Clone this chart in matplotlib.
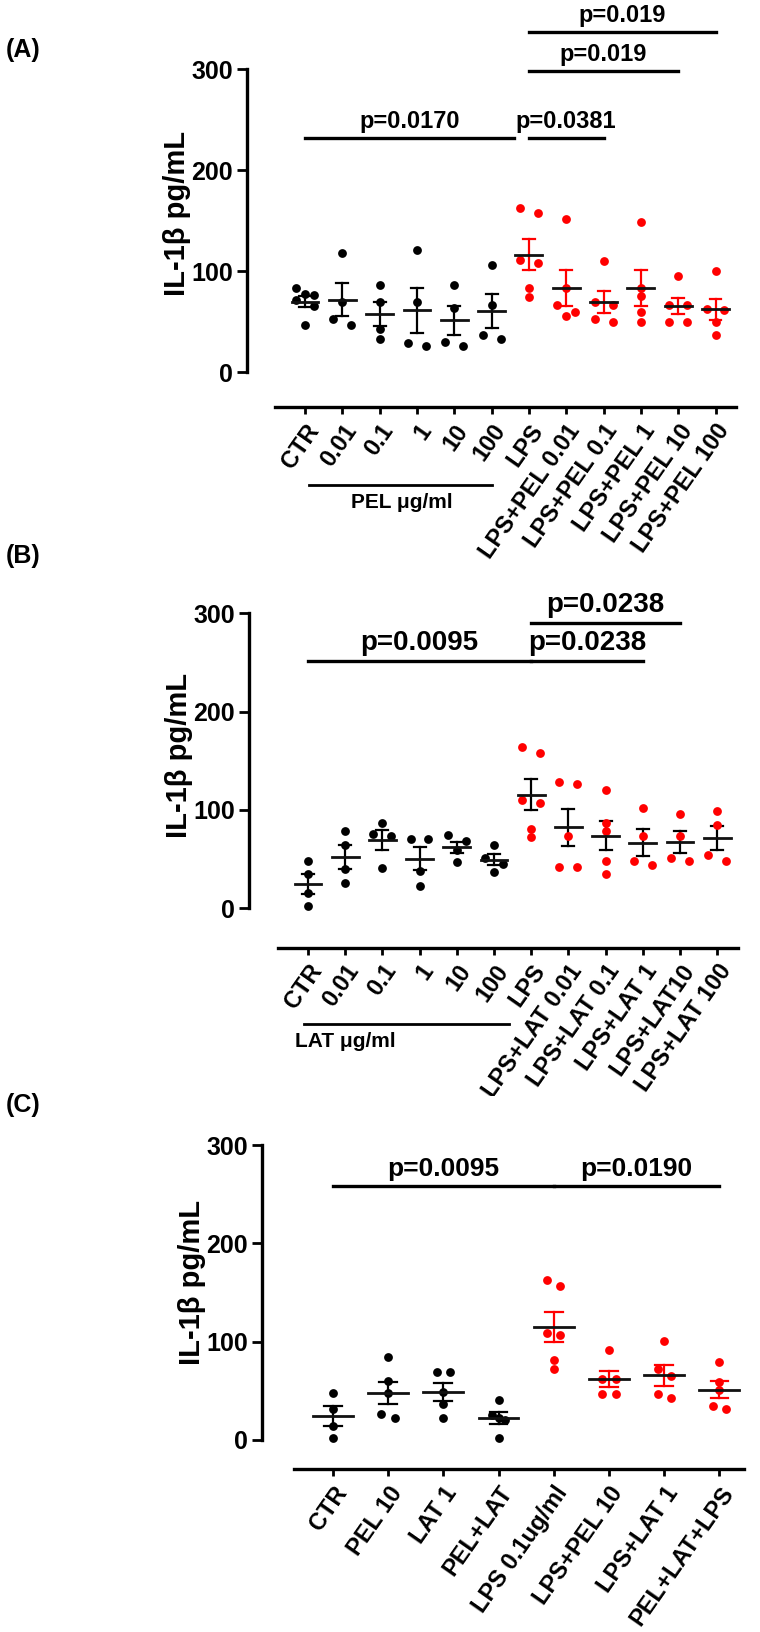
import numpy as np
import matplotlib
matplotlib.use('Agg')
import matplotlib.pyplot as plt

plt.rcParams['font.family'] = ['Liberation Sans', 'DejaVu Sans']
plt.rcParams['font.weight'] = 'bold'

# ---- panel A : PEL
a_labels = ['CTR', '0.01', '0.1', '1', '10', '100', 'LPS',
            'LPS+PEL 0.01', 'LPS+PEL 0.1', 'LPS+PEL 1', 'LPS+PEL 10', 'LPS+PEL 100']
a_values = [[77, 76, 83, 71, 65, 47],
            [118, 69, 47, 53],
            [86, 69, 43, 33],
            [121, 69, 26, 29],
            [86, 63, 26, 30],
            [106, 66, 33, 37],
            [158, 163, 108, 111, 83, 74],
            [152, 83, 66, 59, 56],
            [110, 66, 69, 50, 53],
            [149, 83, 75, 59, 50],
            [95, 66, 66, 50, 50],
            [100, 61, 62, 50, 37]]
a_pvals = [(0, 5.6, 232, 'p=0.0170'), (6, 8, 232, 'p=0.0381'),
           (6, 10, 298, 'p=0.019'), (6, 11, 337, 'p=0.019')]

# ---- panel B : LAT
b_labels = ['CTR', '0.01', '0.1', '1', '10', '100', 'LPS',
            'LPS+LAT 0.01', 'LPS+LAT 0.1', 'LPS+LAT 1', 'LPS+LAT10', 'LPS+LAT 100']
b_values = [[48, 35, 15, 2],
            [79, 64, 40, 26],
            [87, 76, 73, 41],
            [70, 70, 38, 23],
            [74, 68, 59, 47],
            [64, 51, 45, 37],
            [158, 164, 107, 110, 81, 72],
            [128, 126, 73, 42, 42],
            [120, 87, 79, 48, 35],
            [102, 73, 44, 48],
            [96, 73, 48, 51],
            [99, 85, 48, 54]]
b_pvals = [(0, 6, 252, 'p=0.0095'), (6, 9, 252, 'p=0.0238'),
           (6, 10, 290, 'p=0.0238')]

# ---- panel C : combinations
c_labels = ['CTR', 'PEL 10', 'LAT 1', 'PEL+LAT', 'LPS 0.1ug/ml',
            'LPS+PEL 10', 'LPS+LAT 1', 'PEL+LAT+LPS']
c_values = [[48, 32, 14, 2],
            [84, 60, 48, 26, 22],
            [69, 69, 49, 37, 22],
            [41, 25, 22, 20, 2],
            [157, 163, 107, 109, 81, 72],
            [92, 62, 62, 47, 47],
            [101, 65, 72, 43, 47],
            [79, 59, 51, 32, 35]]
c_pvals = [(0, 4, 258, 'p=0.0095'), (4, 7, 258, 'p=0.0190')]

RED = '#ff0000'


def swarm(vals, step, thr):
    # GraphPad-like scatter: near-equal values side by side
    order = np.argsort(vals)[::-1]
    offs = np.zeros(len(vals))
    i = 0
    while i < len(order):
        grp = [order[i]]
        j = i + 1
        while j < len(order) and len(grp) < 3 and vals[order[i]] - vals[order[j]] < thr:
            grp.append(order[j])
            j += 1
        n = len(grp)
        for k, g in enumerate(grp):
            offs[g] = (k - (n - 1) / 2) * (2 * step if n == 2 else step)
        i = j
    return offs


def panel(ax, labels, values, red_from, red_bars, pvals, ylo, xlim, xbounds,
          step, ptext_size):
    for i, v in enumerate(values):
        v = np.array(v, float)
        red = i >= red_from
        col = RED if red else 'black'
        bar_col = RED if (red and red_bars) else 'black'
        xs = i + swarm(v, step, 8)
        ax.scatter(xs, v, s=40, color=col, zorder=3, linewidths=0)
        m = v.mean()
        sem = v.std(ddof=1) / np.sqrt(len(v))
        ax.plot([i - 0.36, i + 0.36], [m, m], color='#111111', lw=2, zorder=4)
        ax.plot([i, i], [m - sem, m + sem], color=bar_col, lw=1.6, zorder=2)
        for yy in (m - sem, m + sem):
            ax.plot([i - 0.16, i + 0.16], [yy, yy], color=bar_col, lw=1.6, zorder=2)

    for x0, x1, y, t in pvals:
        ax.plot([x0, x1], [y, y], color='black', lw=2.4, clip_on=False)
        ax.text((x0 + x1) / 2, y + 5, t, ha='center', va='bottom',
                fontsize=ptext_size, fontweight='bold', clip_on=False)

    ax.set_xlim(*xlim)
    ax.set_ylim(ylo, 350)
    ax.set_yticks([0, 100, 200, 300])
    ax.tick_params(axis='y', labelsize=18, width=2, length=7, pad=3)
    ax.set_xticks(range(len(labels)))
    ax.set_xticklabels(labels, rotation=55, ha='right', rotation_mode='anchor',
                       fontsize=17, fontweight='bold')
    ax.tick_params(axis='x', width=2, length=5, pad=4)
    ax.spines['top'].set_visible(False)
    ax.spines['right'].set_visible(False)
    ax.spines['left'].set_linewidth(2.4)
    ax.spines['bottom'].set_linewidth(2.4)
    ax.spines['left'].set_bounds(0, 300)
    ax.spines['bottom'].set_bounds(*xbounds)
    ax.set_ylabel('IL-1β pg/mL', fontsize=21, fontweight='bold', labelpad=0)


fig = plt.figure(figsize=(7.6, 16.32), dpi=100)

ax_a = fig.add_axes([0.325, 0.7504, 0.641, 0.2381])
panel(ax_a, a_labels, a_values, 6, True, a_pvals, -35, (-1.555, 11.5),
      (-0.8, 11.55), 0.24, 17)
ax_a.plot([0.1, 5.0], [-112, -112], color='black', lw=2, clip_on=False)
ax_a.text(2.6, -120, 'PEL μg/ml', ha='center', va='top', fontsize=15,
          fontweight='bold')

ax_b = fig.add_axes([0.3276, 0.4194, 0.6405, 0.2349])
panel(ax_b, b_labels, b_values, 6, False, b_pvals, -40, (-1.586, 11.5),
      (-0.8, 11.55), 0.24, 20)
ax_b.plot([-0.1, 5.4], [-118, -118], color='black', lw=2, clip_on=False)
ax_b.text(1.0, -126, 'LAT μg/ml', ha='center', va='top', fontsize=15,
          fontweight='bold')

ax_c = fig.add_axes([0.3443, 0.0996, 0.6458, 0.2289])
panel(ax_c, c_labels, c_values, 4, True, c_pvals, -30, (-1.29, 7.6),
      (-0.7, 7.45), 0.12, 19)

fig.text(0.008, 1 - 50 / 1632, '(A)', fontsize=18, fontweight='bold', va='center')
fig.text(0.008, 1 - 556 / 1632, '(B)', fontsize=18, fontweight='bold', va='center')
fig.text(0.008, 1 - 1105 / 1632, '(C)', fontsize=18, fontweight='bold', va='center')

fig.savefig('out.png', dpi=100)
